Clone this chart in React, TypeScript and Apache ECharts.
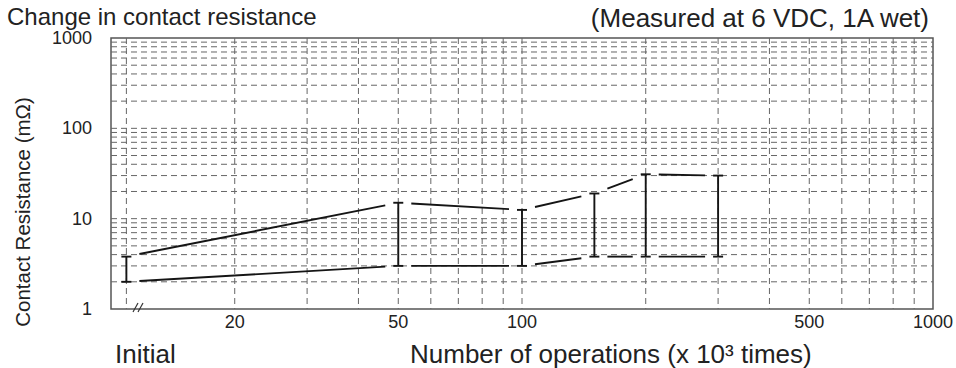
import React, { useEffect, useRef } from "react";
import * as echarts from "echarts";

// ---- data ----
const INITIAL = 10.9; // position used for the "Initial" measurement on the log axis
const operations = [INITIAL, 50, 100, 150, 200, 300]; // x 10^3 operations
const resistanceMax = [3.8, 15, 12.5, 19, 31, 30]; // mΩ
const resistanceMin = [2, 3, 3, 3.8, 3.8, 3.8]; // mΩ
const xTickLabels = [20, 50, 100, 500, 1000];
const xGridValues = [INITIAL, 20, 30, 40, 50, 60, 70, 80, 90, 100, 200, 300, 400, 500, 600, 700, 800, 900];
const yGridValues = [2, 3, 4, 5, 6, 7, 8, 9, 10, 20, 30, 40, 50, 60, 70, 80, 90, 100, 200, 300, 400, 500, 600, 700, 800, 900];

const X_MIN = 10;
const X_MAX = 1000;
const Y_MIN = 1;
const Y_MAX = 1000;

const FONT = "'Liberation Sans', Arial, Helvetica, sans-serif";
const TEXT_COLOR = "#222";
const GRID_COLOR = "#666";
const INK = "#151515";

export default function App() {
  const ref = useRef<HTMLDivElement>(null);

  useEffect(() => {
    if (!ref.current) return;
    const chart = echarts.init(ref.current, undefined, { renderer: "svg" });

    const bars = operations.map((x, i) => [x, resistanceMin[i], resistanceMax[i]]);
    const segments: number[][] = [];
    for (let i = 0; i < operations.length - 1; i++) {
      segments.push([operations[i], resistanceMax[i], operations[i + 1], resistanceMax[i + 1]]);
      segments.push([operations[i], resistanceMin[i], operations[i + 1], resistanceMin[i + 1]]);
    }

    const inkStyle = { stroke: INK, lineWidth: 1.9 };
    const gridStyle = { stroke: GRID_COLOR, lineWidth: 1, lineDash: [6, 4] };

    const option: any = {
      animation: false,
      grid: {
        left: 111,
        right: 23,
        top: 38,
        bottom: 59,
        show: true,
        borderColor: "#555",
        borderWidth: 1.5,
        backgroundColor: "transparent",
        containLabel: false,
        outerBoundsMode: "none",
      },
      xAxis: {
        type: "log",
        logBase: 10,
        min: X_MIN,
        max: X_MAX,
        axisLine: { show: false },
        axisTick: { show: false },
        axisLabel: { show: false },
        splitLine: { show: false },
      },
      yAxis: {
        type: "log",
        logBase: 10,
        min: Y_MIN,
        max: Y_MAX,
        axisLine: { show: false },
        axisTick: { show: false },
        splitLine: { show: false },
        axisLabel: {
          show: true,
          fontSize: 18,
          lineHeight: 14,
          color: TEXT_COLOR,
          fontFamily: FONT,
          margin: 19,
          formatter: (v: number) => String(Math.round(v)),
        },
      },
      graphic: [
        {
          type: "text",
          x: 7,
          y: 16,
          style: {
            text: "Change in contact resistance",
            font: `24px ${FONT}`,
            lineHeight: 22,
            fill: TEXT_COLOR,
            align: "left",
            verticalAlign: "middle",
          },
        },
        {
          type: "text",
          x: 929,
          y: 18,
          style: {
            text: "(Measured at 6 VDC, 1A wet)",
            font: `26px ${FONT}`,
            lineHeight: 22,
            fill: TEXT_COLOR,
            align: "right",
            verticalAlign: "middle",
          },
        },
        {
          type: "text",
          x: 115,
          y: 354,
          style: {
            text: "Initial",
            font: `26px ${FONT}`,
            fill: TEXT_COLOR,
            align: "left",
            verticalAlign: "middle",
          },
        },
        {
          type: "text",
          x: 410,
          y: 354,
          style: {
            text: "Number of operations (x 10³ times)",
            font: `26px ${FONT}`,
            fill: TEXT_COLOR,
            align: "left",
            verticalAlign: "middle",
          },
        },
        {
          type: "text",
          x: 22,
          y: 212,
          rotation: Math.PI / 2,
          style: {
            text: "Contact Resistance (mΩ)",
            font: `20.5px ${FONT}`,
            fill: TEXT_COLOR,
            align: "center",
            verticalAlign: "middle",
          },
        },
        {
          type: "line",
          shape: { x1: 133, y1: 312, x2: 138, y2: 303 },
          style: { stroke: "#333", lineWidth: 1.2 },
        },
        {
          type: "line",
          shape: { x1: 138, y1: 312, x2: 143, y2: 303 },
          style: { stroke: "#333", lineWidth: 1.2 },
        },
      ],
      series: [
        {
          name: "vgrid",
          type: "custom",
          silent: true,
          z: 1,
          clip: false,
          encode: { x: 0, y: 1 },
          data: xGridValues.map((v) => [v, Y_MIN]),
          renderItem: (params: any, api: any) => {
            const cs = params.coordSys;
            const p = api.coord([api.value(0), Y_MIN]);
            return {
              type: "line",
              shape: { x1: p[0], y1: cs.y, x2: p[0], y2: cs.y + cs.height },
              style: gridStyle,
            };
          },
        },
        {
          name: "hgrid",
          type: "custom",
          silent: true,
          z: 1,
          clip: false,
          encode: { x: 0, y: 1 },
          data: yGridValues.map((v) => [X_MIN, v]),
          renderItem: (params: any, api: any) => {
            const cs = params.coordSys;
            const p = api.coord([X_MIN, api.value(1)]);
            return {
              type: "line",
              shape: { x1: cs.x, y1: p[1], x2: cs.x + cs.width, y2: p[1] },
              style: gridStyle,
            };
          },
        },
        {
          name: "xLabels",
          type: "custom",
          silent: true,
          z: 3,
          clip: false,
          encode: { x: 0, y: 1 },
          data: xTickLabels.map((v) => [v, Y_MIN]),
          renderItem: (params: any, api: any) => {
            const cs = params.coordSys;
            const v = api.value(0);
            const p = api.coord([v, Y_MIN]);
            return {
              type: "text",
              x: p[0],
              y: cs.y + cs.height + 13,
              style: {
                text: String(Math.round(v)),
                font: `18px ${FONT}`,
                fill: TEXT_COLOR,
                align: "center",
                verticalAlign: "middle",
              },
            };
          },
        },
        {
          name: "trend",
          type: "custom",
          z: 4,
          clip: false,
          encode: { x: [0, 2], y: [1, 3] },
          data: segments,
          renderItem: (params: any, api: any) => {
            const p1 = api.coord([api.value(0), api.value(1)]);
            const p2 = api.coord([api.value(2), api.value(3)]);
            const dx = p2[0] - p1[0];
            const dy = p2[1] - p1[1];
            const g = dx !== 0 ? 13 / dx : 0;
            return {
              type: "line",
              shape: {
                x1: p1[0] + dx * g,
                y1: p1[1] + dy * g,
                x2: p2[0] - dx * g,
                y2: p2[1] - dy * g,
              },
              style: inkStyle,
            };
          },
        },
        {
          name: "range",
          type: "custom",
          z: 5,
          clip: false,
          encode: { x: 0, y: [1, 2] },
          data: bars,
          renderItem: (params: any, api: any) => {
            const x = api.value(0);
            const bot = api.coord([x, api.value(1)]);
            const top = api.coord([x, api.value(2)]);
            const cap = 5;
            const px = top[0];
            return {
              type: "group",
              children: [
                { type: "line", shape: { x1: px, y1: top[1], x2: px, y2: bot[1] }, style: inkStyle },
                { type: "line", shape: { x1: px - cap, y1: top[1], x2: px + cap, y2: top[1] }, style: inkStyle },
                { type: "line", shape: { x1: px - cap, y1: bot[1], x2: px + cap, y2: bot[1] }, style: inkStyle },
              ],
            };
          },
        },
      ],
    };

    chart.setOption(option);
    return () => chart.dispose();
  }, []);

  return (
    <div
      ref={ref}
      style={{ position: "fixed", left: 0, top: 0, width: 956, height: 368, background: "#fff" }}
    />
  );
}
